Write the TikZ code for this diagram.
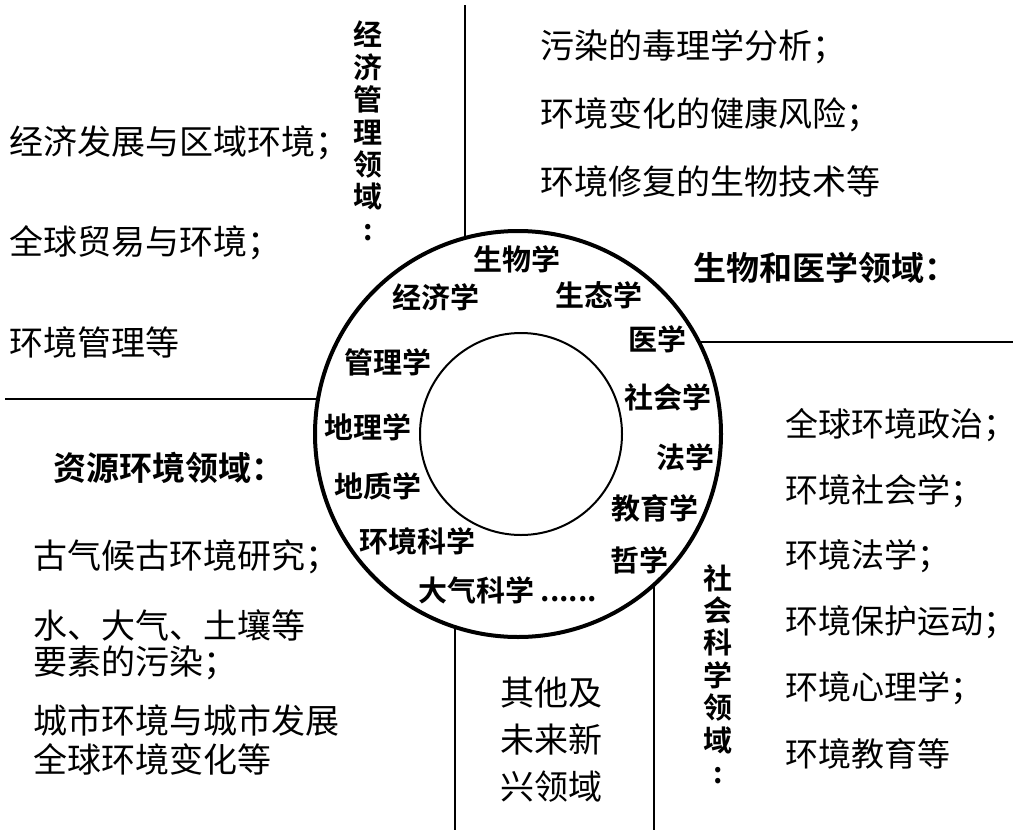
\documentclass[tikz,border=0pt]{standalone}
\usepackage{fontspec}
\newfontfamily\cjk{Noto Sans CJK SC}[BoldFont={Noto Sans CJK SC Bold}]
\usetikzlibrary{positioning}
\tikzset{every node/.append style={inner sep=0pt, outer sep=0pt}}
\tikzset{
  item/.style={font=\cjk\fontsize{17}{17}\selectfont, anchor=west},
  head/.style={font=\cjk\bfseries\fontsize{16.5}{16.5}\selectfont, anchor=west},
  subj/.style={font=\cjk\bfseries\fontsize{14.5}{14.5}\selectfont},
  vert/.style={font=\cjk\bfseries\fontsize{14.5}{16.2}\selectfont, align=center},
  divider/.style={line width=1pt}
}

\begin{document}
\begin{tikzpicture}[x=0.5pt, y=-0.5pt]
  \useasboundingbox (0,0) rectangle (1017,835);

  % rings
  \node[circle, draw, line width=2pt, minimum size=203pt] (ring) at (518,434) {};
  \node[circle, draw, line width=1pt, minimum size=101pt] (core) at (521,434) {};

  % dividers
  \coordinate (topend) at (463,5);
  \coordinate (rightend) at (1013,340);
  \coordinate (leftend) at (5,399);
  \coordinate (bottomend) at (0,830);
  \draw[divider] (ring.105.7) -- (ring.105.7 |- topend);
  \draw[divider] (ring.27.6) -- (ring.27.6 -| rightend);
  \draw[divider] (ring.170.1) -- (ring.170.1 -| leftend);
  \draw[divider] (ring.252.2) -- (ring.252.2 |- bottomend);
  \draw[divider] (ring.-48.3) -- (ring.-48.3 |- bottomend);

  % subjects in the ring
  \node[subj] (biology) at (517,259) {生物学};
  \node[subj] (economics) at (436,297) {经济学};
  \node[subj] (ecology) at (599,295) {生态学};
  \node[subj] (medicine) at (657,339) {医学};
  \node[subj] (management) at (388,362) {管理学};
  \node[subj] (sociology) at (668,397) {社会学};
  \node[subj] (geography) at (368,427) {地理学};
  \node[subj] (law) at (685,457) {法学};
  \node[subj] (geology) at (378,486) {地质学};
  \node[subj] (education) at (655,508) {教育学};
  \node[subj] (envsci) at (417,541) {环境科学};
  \node[subj] (philosophy) at (639,560) {哲学};
  \node[subj, anchor=west] (atmos) at (418,590) {大气科学\ ......};

  % economy and management
  \node[vert] (econtitle) at (368,131) {经\\济\\管\\理\\领\\域\\:};
  \foreach \t [count=\i] in {经济发展与区域环境；, 全球贸易与环境；, 环境管理等}
    \node[item] (econ\i) at (10,43+100*\i) {\t};

  % biology and medicine
  \foreach \t [count=\i] in {污染的毒理学分析；, 环境变化的健康风险；, 环境修复的生物技术等}
    \node[item] (bio\i) at (540,47+67.5*\i-67.5) {\t};
  \node[head] (biotitle) at (693,268) {生物和医学领域：};

  % resources and environment
  \node[head] (restitle) at (53,468) {资源环境领域：};
  \node[item] (res1) at (33,557) {古气候古环境研究；};
  \node[item] (res2) at (33,625) {水、大气、土壤等};
  \node[item] (res3) at (33,663) {要素的污染；};
  \node[item] (res4) at (33,720) {城市环境与城市发展};
  \node[item] (res5) at (33,759) {全球环境变化等};

  % other and new fields
  \node[item, anchor=center, align=center, font=\cjk\fontsize{17}{23.5}\selectfont] (other) at (551,740) {其他及\\未来新\\兴领域};

  % social science
  \node[vert] (soctitle) at (718,674) {社\\会\\科\\学\\领\\域\\:};
  \foreach \t [count=\i] in {全球环境政治；, 环境社会学；, 环境法学；, 环境保护运动；, 环境心理学；, 环境教育等}
    \node[item, font=\cjk\fontsize{16.5}{16.5}\selectfont] (soc\i) at (785,425+65.8*\i-65.8) {\t};
\end{tikzpicture}
\end{document}
